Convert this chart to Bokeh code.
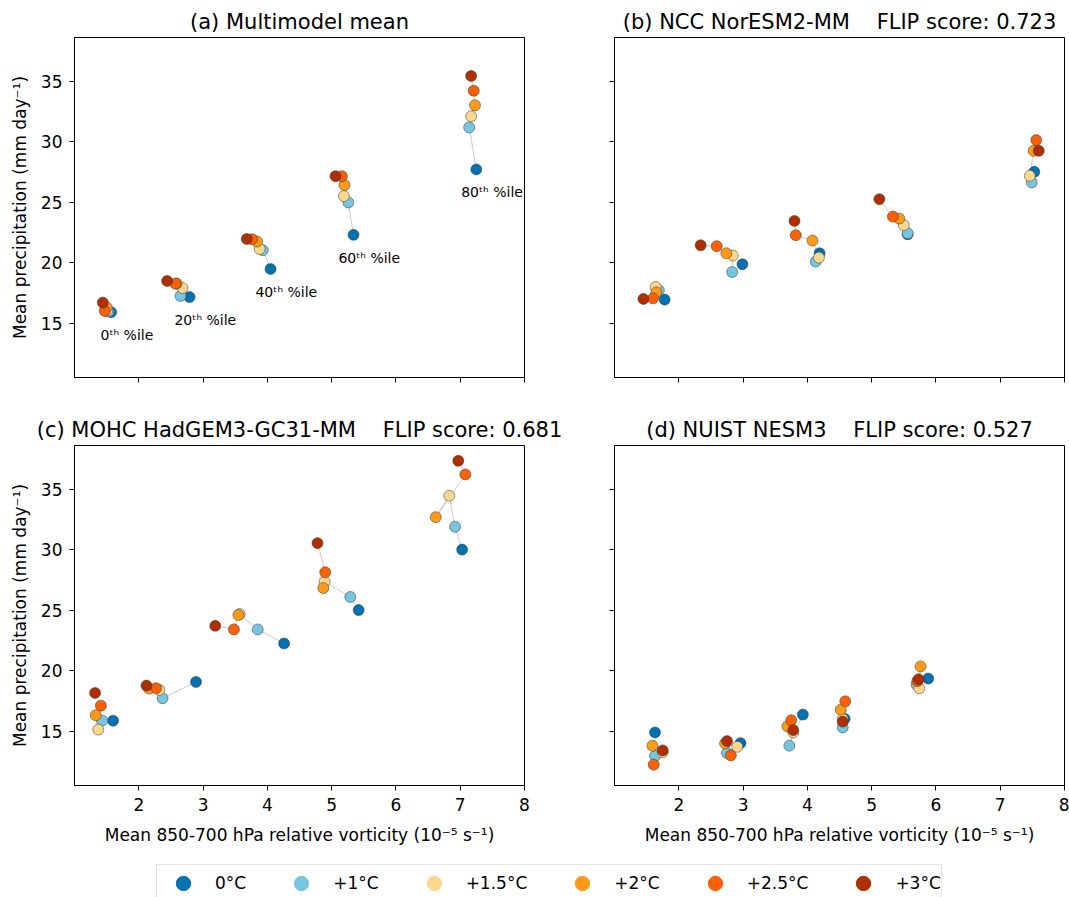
from bokeh.plotting import figure
from bokeh.layouts import column, row
from bokeh.models import Range1d, FixedTicker, Legend, LegendItem
from bokeh.embed import file_html
from bokeh.resources import INLINE
from bokeh.core.properties import value

FONT = "DejaVu Sans"
GAP = " \u00a0\u00a0\u00a0"

levels = ["0°C", "+1°C", "+1.5°C", "+2°C", "+2.5°C", "+3°C"]
colors = ["#0072b2", "#76c6e2", "#fcd88f", "#fd9b19", "#fb6104", "#b02f00"]
pct_labels = ["0ᵗʰ %ile", "20ᵗʰ %ile", "40ᵗʰ %ile", "60ᵗʰ %ile", "80ᵗʰ %ile"]

titles = [
    "(a) Multimodel mean",
    "(b) NCC NorESM2-MM" + GAP + "FLIP score: 0.723",
    "(c) MOHC HadGEM3-GC31-MM" + GAP + "FLIP score: 0.681",
    "(d) NUIST NESM3" + GAP + "FLIP score: 0.527",
]

# rows: warming level (0, +1, +1.5, +2, +2.5, +3); columns: percentile bins (0,20,40,60,80)
mmm_vort = [
    [1.57, 2.79, 4.05, 5.34, 7.25],
    [1.53, 2.65, 3.93, 5.26, 7.14],
    [1.51, 2.68, 3.88, 5.19, 7.17],
    [1.50, 2.59, 3.84, 5.20, 7.23],
    [1.47, 2.57, 3.76, 5.16, 7.21],
    [1.44, 2.44, 3.68, 5.06, 7.17],
]
mmm_prec = [
    [15.90, 17.15, 19.47, 22.29, 27.70],
    [15.95, 17.24, 21.02, 24.97, 31.17],
    [16.05, 17.90, 21.13, 25.49, 32.09],
    [16.30, 18.26, 21.74, 26.40, 33.00],
    [16.00, 18.26, 21.93, 27.14, 34.20],
    [16.69, 18.48, 21.95, 27.14, 35.42],
]
nor_vort = [
    [1.78, 2.99, 4.19, 5.56, 7.53],
    [1.69, 2.83, 4.13, 5.56, 7.49],
    [1.64, 2.84, 4.18, 5.50, 7.46],
    [1.65, 2.74, 4.08, 5.43, 7.52],
    [1.60, 2.59, 3.82, 5.33, 7.56],
    [1.45, 2.34, 3.80, 5.12, 7.60],
]
nor_prec = [
    [16.94, 19.86, 20.77, 22.34, 27.50],
    [17.70, 19.22, 20.08, 22.42, 26.62],
    [17.98, 20.58, 20.41, 23.09, 27.17],
    [17.54, 20.77, 21.82, 23.64, 29.24],
    [17.04, 21.35, 22.26, 23.80, 30.12],
    [16.99, 21.43, 23.44, 25.24, 29.24],
]
had_vort = [
    [1.60, 2.89, 4.26, 5.42, 7.03],
    [1.43, 2.37, 3.85, 5.29, 6.92],
    [1.37, 2.32, 3.57, 4.89, 6.83],
    [1.33, 2.16, 3.55, 4.87, 6.62],
    [1.41, 2.27, 3.48, 4.90, 7.08],
    [1.32, 2.12, 3.19, 4.78, 6.97],
]
had_prec = [
    [15.86, 19.06, 22.24, 25.00, 30.00],
    [15.86, 17.71, 23.40, 26.08, 31.88],
    [15.12, 18.40, 24.67, 27.35, 34.45],
    [16.30, 18.51, 24.59, 26.82, 32.68],
    [17.10, 18.54, 23.40, 28.12, 36.21],
    [18.15, 18.76, 23.70, 30.53, 37.34],
]
nes_vort = [
    [1.63, 2.96, 3.93, 4.58, 5.88],
    [1.63, 2.75, 3.72, 4.55, 5.70],
    [1.75, 2.91, 3.78, 4.55, 5.74],
    [1.59, 2.72, 3.69, 4.52, 5.76],
    [1.61, 2.81, 3.75, 4.59, 5.71],
    [1.75, 2.75, 3.78, 4.55, 5.73],
]
nes_prec = [
    [14.89, 14.00, 16.36, 16.02, 19.34],
    [12.93, 13.18, 13.79, 15.30, 18.84],
    [13.24, 13.70, 14.89, 16.00, 18.54],
    [13.79, 13.98, 15.39, 16.77, 20.34],
    [12.22, 12.99, 15.89, 17.46, 19.12],
    [13.40, 14.17, 15.08, 15.78, 19.28],
]

x_ticks = [2, 3, 4, 5, 6, 7, 8]
y_ticks = [15, 20, 25, 30, 35]
xlabel = "Mean 850-700 hPa relative vorticity (10⁻⁵ s⁻¹)"
ylabel = "Mean precipitation (mm day⁻¹)"


def make_panel(title, vort, prec, left, bottom, annotate=False):
    p = figure(
        frame_width=450, frame_height=340,
        x_range=Range1d(1.0, 8.0), y_range=Range1d(10.5, 38.6),
        output_backend="svg", toolbar_location=None, tools="",
        min_border_left=74 if left else 45,
        min_border_right=45 if left else 5,
        min_border_top=37,
        min_border_bottom=65 if bottom else 31,
        background_fill_color="white", border_fill_color="white",
    )
    p.title.text = title
    p.title.text_font = FONT
    p.title.text_font_size = "21px"
    p.title.text_font_style = "normal"
    p.title.align = "center"
    p.title.standoff = 8
    p.title.text_color = "black"
    p.grid.visible = False
    p.outline_line_color = "black"
    p.outline_line_width = 1
    p.outline_line_alpha = 1

    for ax in (p.xaxis[0], p.yaxis[0]):
        ax.major_tick_out = 5
        ax.major_tick_in = 0
        ax.minor_tick_line_color = None
        ax.major_tick_line_color = "black"
        ax.axis_line_color = "black"
        ax.major_label_text_font = FONT
        ax.major_label_text_font_size = "17px"
        ax.major_label_text_color = "black"
        ax.major_label_standoff = 7
        ax.axis_label_text_font = FONT
        ax.axis_label_text_font_size = "17px"
        ax.axis_label_text_font_style = "normal"
        ax.axis_label_text_color = "black"
        ax.axis_label_standoff = 8
    p.xaxis.axis_label_standoff = 11
    p.xaxis.ticker = FixedTicker(ticks=x_ticks)
    p.yaxis.ticker = FixedTicker(ticks=y_ticks)
    if bottom:
        p.xaxis.axis_label = xlabel
    else:
        p.xaxis.major_label_text_color = None
        p.xaxis.major_label_standoff = 0
    if left:
        p.yaxis.axis_label = ylabel
    else:
        p.yaxis.major_label_text_color = None
        p.yaxis.major_label_standoff = 0

    npct = len(vort[0])
    xs = [[vort[l][k] for l in range(len(levels))] for k in range(npct)]
    ys = [[prec[l][k] for l in range(len(levels))] for k in range(npct)]
    p.multi_line(xs=xs, ys=ys, line_color="#bdbdbd", line_width=0.8)

    for l, c in enumerate(colors):
        p.scatter(x=vort[l], y=prec[l], size=11, fill_color=c,
                  line_color="#333333", line_width=0.5)

    if annotate:
        lx = [v + 0.245 for v in vort[0]]
        ly = [v - 1.9 for v in prec[0]]
        p.text(x=lx, y=ly, text=pct_labels, text_align="center",
               text_baseline="middle", text_font=value(FONT),
               text_font_size="14px", text_color="black")
    return p


pa = make_panel(titles[0], mmm_vort, mmm_prec, True, False, annotate=True)
pb = make_panel(titles[1], nor_vort, nor_prec, False, False)
pc = make_panel(titles[2], had_vort, had_prec, True, True)
pd = make_panel(titles[3], nes_vort, nes_prec, False, True)

lf = figure(width=1069, height=47, x_range=Range1d(0, 1), y_range=Range1d(0, 1),
            output_backend="svg", toolbar_location=None, tools="",
            x_axis_location=None, y_axis_location=None, min_border=0,
            outline_line_color=None, background_fill_color="white",
            border_fill_color="white")
lf.grid.visible = False
items = []
for lev, c in zip(levels, colors):
    r = lf.scatter(x=[float("nan")], y=[float("nan")], size=16,
                   fill_color=c, line_color=c)
    items.append(LegendItem(label=lev, renderers=[r]))
leg = Legend(items=items, orientation="horizontal", location=(156, -5),
             glyph_width=52, glyph_height=36, label_standoff=6, spacing=29,
             padding=0, margin=0, border_line_color="#cccccc",
             border_line_width=1, background_fill_color="white",
             background_fill_alpha=1, label_text_font=FONT,
             label_text_font_size="17px", label_text_color="black")
lf.add_layout(leg)

layout = column(row(pa, pb), row(pc, pd), lf)

open("out.html", "w").write(file_html(layout, INLINE))
